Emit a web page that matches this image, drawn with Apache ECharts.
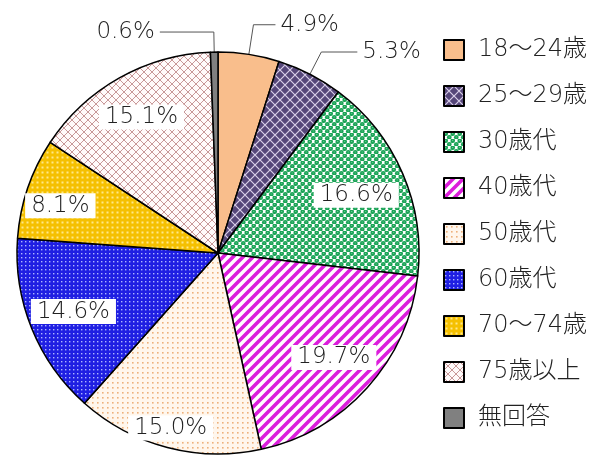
<!DOCTYPE html>
<html><head><meta charset="utf-8">
<script src="https://cdn.jsdelivr.net/npm/echarts@6/dist/echarts.min.js"></script>
<style>html,body{margin:0;padding:0;background:#fff}#c{width:600px;height:457px}</style>
</head><body><div id="c"></div>
<script>
const categories = ['18～24歳','25～29歳','30歳代','40歳代','50歳代','60歳代','70～74歳','75歳以上','無回答'];
const values = [4.9, 5.3, 16.6, 19.7, 15.0, 14.6, 8.1, 15.1, 0.6];
const outsideLabels = ['18～24歳','25～29歳','無回答'];

function pat(w, h, draw) {
  const c = document.createElement('canvas');
  c.width = w; c.height = h;
  const g = c.getContext('2d');
  draw(g, w, h);
  return { image: c, repeat: 'repeat' };
}
const patterns = [
  '#F9BE8C',
  pat(10, 10, (g) => {
    g.fillStyle = '#554679'; g.fillRect(0, 0, 10, 10);
    g.strokeStyle = '#D9CFEA'; g.lineWidth = 1.2;
    g.beginPath(); g.moveTo(0, 0); g.lineTo(10, 10); g.moveTo(10, 0); g.lineTo(0, 10); g.stroke();
  }),
  pat(7, 7, (g) => {
    g.fillStyle = '#ffffff'; g.fillRect(0, 0, 7, 7);
    g.fillStyle = '#1BA356';
    [[1.75, 1.75], [5.25, 5.25], [-1.75, 5.25], [8.75, 1.75]].forEach(p => { g.beginPath(); g.arc(p[0], p[1], 2.3, 0, Math.PI * 2); g.fill(); });
    g.fillStyle = '#6fd29a';
    g.fillRect(1.2, 1.0, 1, 1); g.fillRect(4.7, 4.5, 1, 1);
  }),
  pat(10, 10, (g) => {
    g.fillStyle = '#ffffff'; g.fillRect(0, 0, 10, 10);
    g.strokeStyle = '#DC1EDC'; g.lineWidth = 3.6;
    g.beginPath();
    g.moveTo(-5, 5); g.lineTo(5, -5);
    g.moveTo(0, 10); g.lineTo(10, 0);
    g.moveTo(5, 15); g.lineTo(15, 5);
    g.stroke();
  }),
  pat(5, 5, (g) => {
    g.fillStyle = '#FFF6EC'; g.fillRect(0, 0, 5, 5);
    g.fillStyle = '#EDB07A'; g.fillRect(2, 2, 1.6, 1.6);
  }),
  pat(4, 4, (g) => {
    g.fillStyle = '#1F1FE2'; g.fillRect(0, 0, 4, 4);
    g.fillStyle = '#AEB6FF'; g.fillRect(1, 1, 1.4, 1.4);
  }),
  pat(5, 5, (g) => {
    g.fillStyle = '#F5C000'; g.fillRect(0, 0, 5, 5);
    g.fillStyle = '#FFE88A'; g.fillRect(1.5, 1.5, 2, 2);
  }),
  pat(8, 8, (g) => {
    g.fillStyle = '#FFFAFA'; g.fillRect(0, 0, 8, 8);
    g.strokeStyle = '#C89898'; g.lineWidth = 1;
    g.beginPath(); g.moveTo(0, 0); g.lineTo(8, 8); g.moveTo(8, 0); g.lineTo(0, 8); g.stroke();
  }),
  '#808080'
];

const FONT = '"DejaVu Sans", "Noto Sans CJK JP", sans-serif';
const labelOffsets = { '50歳代': [-8, 24], '70～74歳': [-10, 3], '30歳代': [-5, 4] };
const lineLens = { '18～24歳': [30, 22], '25～29歳': [25, 36], '無回答': [20, 54] };

const mainData = categories.map((n, i) => {
  const outside = outsideLabels.includes(n);
  return {
    name: n, value: values[i],
    itemStyle: { color: patterns[i] },
    label: { show: outside },
    labelLine: outside ? { show: true, length: lineLens[n][0], length2: lineLens[n][1] } : { show: false }
  };
});
const labelData = categories.map((n, i) => ({
  name: n + ' ', value: values[i],
  label: { show: !outsideLabels.includes(n), offset: labelOffsets[n] || [0, 0] }
}));

const chart = echarts.init(document.getElementById('c'), null, { renderer: 'canvas' });
chart.setOption({
  animation: false,
  legend: {
    data: categories,
    orient: 'vertical',
    left: 438, top: 33,
    icon: 'rect',
    itemWidth: 20, itemHeight: 20, itemGap: 22,
    textStyle: { fontFamily: FONT, fontSize: 24, fontWeight: 200, color: '#222', padding: [0, 0, 0, 9] },
    selectedMode: false
  },
  series: [
    {
      type: 'pie', center: [218, 253], radius: 201, startAngle: 90, clockwise: true,
      avoidLabelOverlap: false, silent: true,
      itemStyle: { borderColor: '#000', borderWidth: 1.5 },
      label: {
        position: 'outside', fontFamily: FONT, fontSize: 23, fontWeight: 200, color: '#222',
        formatter: (p) => p.value.toFixed(1) + '%'
      },
      labelLine: { lineStyle: { color: '#555', width: 1 } },
      data: mainData
    },
    {
      type: 'pie', center: [218, 253], radius: [105, 201], startAngle: 90, clockwise: true,
      avoidLabelOverlap: false, silent: true, z: 5,
      itemStyle: { color: 'rgba(0,0,0,0)', borderWidth: 0 },
      label: {
        position: 'inside', fontFamily: FONT, fontSize: 23, fontWeight: 200, color: '#222',
        backgroundColor: '#fff', padding: [1, 6],
        formatter: (p) => p.value.toFixed(1) + '%'
      },
      labelLine: { show: false },
      data: labelData
    }
  ]
});
</script></body></html>
